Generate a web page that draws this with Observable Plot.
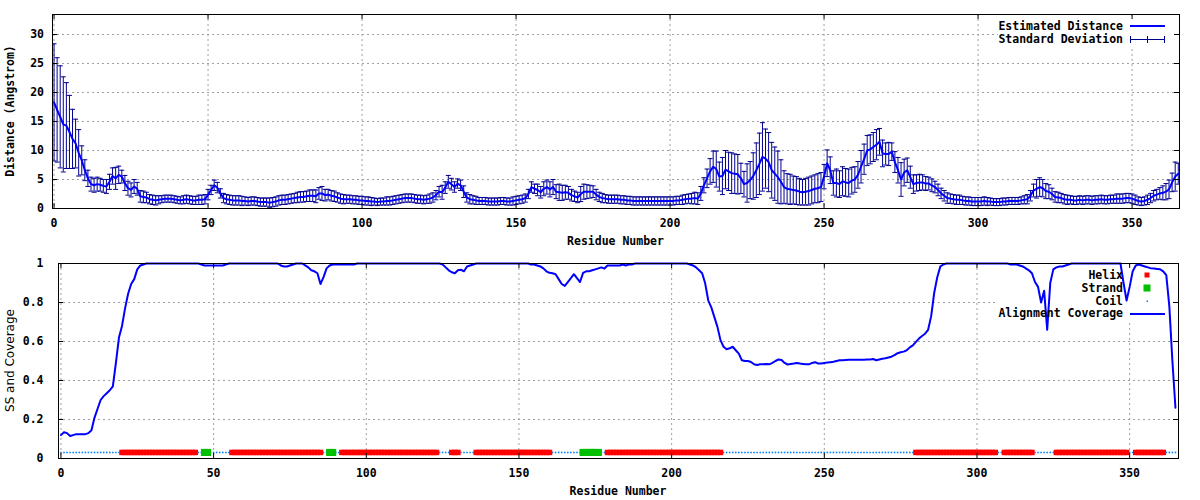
<!DOCTYPE html>
<html>
<head>
<meta charset="utf-8">
<script src="https://cdn.jsdelivr.net/npm/d3@7"></script>
<script src="https://cdn.jsdelivr.net/npm/@observablehq/plot@0.6"></script>
<style>
html,body{margin:0;padding:0;background:#fff;}
#wrap{position:relative;width:1200px;height:500px;overflow:hidden;}
.panel svg{display:block;}
.lg{position:absolute;font:bold 11.5px "DejaVu Sans Mono",monospace;color:#000;height:13px;line-height:13px;white-space:nowrap;text-align:right;}
.sw{position:absolute;}
</style>
</head>
<body>
<div id="wrap"><div class="panel" id="top"></div><div class="panel" id="bot"></div></div>
<script>
// ---------- data ----------
const distance = [
18.3,17.0,15.8,14.5,14.3,13.2,12.0,11.2,9.6,8.3,
6.6,5.2,4.2,4.0,4.2,4.1,3.9,3.8,4.6,5.6,
5.2,5.8,5.5,4.4,3.5,3.2,3.8,3.4,2.1,2.0,
1.9,1.6,1.5,1.4,1.5,1.6,1.7,1.7,1.7,1.6,
1.5,1.4,1.5,1.6,1.5,1.4,1.4,1.5,1.5,1.6,
2.4,3.2,4.0,3.6,2.6,1.8,1.6,1.5,1.4,1.4,
1.4,1.3,1.3,1.2,1.3,1.3,1.2,1.1,1.1,1.1,
1.0,1.1,1.2,1.4,1.5,1.5,1.6,1.7,1.8,1.9,
2.0,2.0,2.1,2.2,2.2,2.1,2.6,2.6,2.3,2.4,
2.2,2.1,1.9,1.7,1.6,1.6,1.6,1.5,1.5,1.4,
1.4,1.3,1.3,1.2,1.2,1.1,1.2,1.2,1.3,1.3,
1.4,1.5,1.6,1.7,1.8,1.8,1.8,1.7,1.6,1.6,
1.5,1.6,1.7,1.9,2.3,2.9,2.8,3.6,4.6,4.2,
3.7,4.3,4.0,2.9,1.9,1.6,1.5,1.4,1.3,1.3,
1.3,1.2,1.2,1.2,1.2,1.3,1.3,1.2,1.2,1.3,
1.4,1.5,1.6,1.8,2.5,3.7,3.4,3.2,2.8,3.4,
3.7,3.3,3.7,2.9,2.8,2.7,2.8,2.7,2.3,2.1,
1.9,2.5,2.9,2.9,2.9,2.9,2.4,2.0,1.8,1.7,
1.6,1.6,1.6,1.6,1.5,1.5,1.4,1.4,1.3,1.3,
1.3,1.3,1.3,1.3,1.3,1.3,1.3,1.3,1.3,1.3,
1.3,1.3,1.4,1.4,1.5,1.6,1.7,1.7,1.8,1.7,
2.6,4.0,5.2,6.4,7.2,6.8,5.5,5.6,6.7,6.4,
6.1,6.0,5.9,5.2,4.2,4.4,4.9,5.6,6.6,7.7,
8.9,8.6,8.0,6.6,6.0,5.4,4.6,3.7,3.4,3.3,
3.2,3.1,2.9,2.8,2.9,3.0,3.2,3.4,3.5,3.7,
5.5,7.8,6.6,4.4,4.4,4.2,4.7,4.5,4.4,4.8,
5.0,5.8,7.2,8.5,10.0,10.2,10.6,11.0,11.5,9.5,
9.4,9.4,9.8,8.0,6.6,5.0,6.2,6.6,5.4,4.2,
4.4,4.5,4.5,4.3,4.3,4.0,3.7,3.2,2.6,2.2,
1.8,1.7,1.6,1.5,1.5,1.4,1.3,1.3,1.2,1.2,
1.2,1.2,1.3,1.2,1.2,1.1,1.1,1.1,1.2,1.2,
1.3,1.3,1.3,1.3,1.4,1.5,1.6,2.2,3.1,3.4,
3.7,3.5,3.0,2.9,2.5,2.0,1.9,1.8,1.6,1.5,
1.5,1.4,1.4,1.5,1.4,1.5,1.5,1.4,1.5,1.5,
1.6,1.5,1.5,1.6,1.6,1.7,1.7,1.7,1.8,1.8,
1.7,1.5,1.3,1.2,1.3,1.5,1.8,2.2,2.4,2.6,
2.7,2.9,3.3,4.5,5.5,6.0];

const stdev = [
10.1,9.0,8.8,8.2,7.4,6.3,5.1,4.2,4.0,2.5,
1.8,1.4,1.2,1.2,1.2,1.1,1.1,1.2,1.3,1.4,
1.9,1.5,1.1,1.3,1.2,1.2,1.2,1.1,1.0,1.0,
0.9,0.8,0.8,0.8,0.7,0.6,0.6,0.6,0.6,0.6,
0.6,0.6,0.7,0.7,0.7,0.7,0.7,0.8,0.8,0.8,
0.9,0.8,0.9,0.9,0.8,0.8,0.8,0.8,0.8,0.8,
0.8,0.8,0.7,0.7,0.7,0.7,0.7,0.7,0.7,0.7,
0.8,0.8,0.8,0.8,0.8,0.8,0.8,0.8,0.8,0.9,
0.9,0.9,0.9,1.0,1.0,1.1,1.0,1.2,1.0,0.9,
0.9,0.9,0.8,0.8,0.8,0.7,0.7,0.7,0.7,0.7,
0.7,0.7,0.7,0.7,0.6,0.6,0.6,0.6,0.7,0.7,
0.7,0.7,0.7,0.7,0.7,0.7,0.7,0.7,0.7,0.7,
0.7,0.7,0.8,0.8,0.8,0.9,1.2,1.0,1.1,1.0,
0.9,0.8,0.9,1.0,0.8,0.8,0.7,0.7,0.6,0.6,
0.6,0.6,0.6,0.6,0.6,0.6,0.6,0.6,0.6,0.7,
0.7,0.7,0.7,0.7,0.8,0.9,0.8,1.0,1.0,1.2,
1.2,1.3,1.3,1.2,1.4,1.3,1.2,1.1,1.0,0.9,
0.9,1.3,1.3,1.2,1.1,1.0,0.9,0.8,0.8,0.7,
0.7,0.7,0.7,0.7,0.7,0.7,0.7,0.7,0.7,0.7,
0.7,0.7,0.7,0.7,0.7,0.7,0.7,0.7,0.7,0.7,
0.7,0.7,0.7,0.7,0.8,0.8,0.8,0.9,1.0,1.0,
1.2,1.3,1.6,2.2,2.7,3.1,2.5,3.2,3.3,3.3,
3.5,3.4,3.4,2.6,2.2,3.3,3.2,4.0,4.7,5.3,
5.9,5.1,5.1,4.8,4.6,4.5,3.8,2.8,2.6,2.6,
2.4,2.4,2.3,2.2,2.3,2.4,2.4,2.4,2.5,2.5,
2.1,2.3,2.3,2.1,2.4,2.3,2.5,2.4,2.4,2.3,
2.2,2.3,2.8,2.6,2.6,2.5,2.5,2.6,2.3,2.3,
1.9,2.0,1.5,1.8,2.2,2.9,2.3,2.1,1.9,1.6,
1.4,1.4,1.3,1.2,1.1,1.1,1.0,1.0,0.9,0.9,
0.9,0.8,0.8,0.8,0.8,0.7,0.7,0.7,0.7,0.7,
0.7,0.7,0.7,0.7,0.6,0.6,0.6,0.6,0.6,0.6,
0.6,0.6,0.6,0.6,0.6,0.7,0.8,0.9,1.1,1.6,
1.6,1.5,1.3,1.2,1.0,0.9,0.9,0.8,0.8,0.8,
0.7,0.7,0.7,0.7,0.7,0.7,0.7,0.7,0.7,0.7,
0.7,0.7,0.7,0.7,0.7,0.8,0.8,0.8,0.8,0.8,
0.8,0.8,0.7,0.7,0.7,0.8,0.8,0.9,0.9,1.0,
1.2,1.4,1.6,1.6,2.5,1.8];

const coverage = [
0.12,0.135,0.13,0.115,0.12,0.125,0.125,0.125,0.125,0.13,
0.145,0.21,0.255,0.3,0.32,0.335,0.35,0.37,0.49,0.62,
0.68,0.77,0.845,0.895,0.92,0.97,0.99,0.995,1,1,
1,1,1,1,1,1,1,1,1,1,
1,1,1,1,1,1,0.995,0.99,0.99,0.99,
0.99,0.99,0.99,0.99,0.995,1,1,1,1,1,
1,1,1,1,1,1,1,1,1,1,
1,1,0.99,0.985,0.985,0.99,0.995,1,1,1,
0.99,0.98,0.965,0.96,0.95,0.895,0.93,0.975,0.99,0.995,
0.995,0.995,0.995,0.995,0.995,0.995,0.995,1,1,1,
1,1,1,1,1,1,1,1,1,1,
1,1,1,1,1,1,1,1,1,1,
1,1,1,1,1,0.995,0.98,0.965,0.955,0.95,
0.965,0.968,0.96,0.985,0.99,0.995,1,1,1,1,
1,1,1,1,1,1,1,1,1,1,
1,1,1,1,0.995,0.995,0.99,0.985,0.975,0.96,
0.952,0.95,0.945,0.92,0.895,0.885,0.905,0.925,0.945,0.925,
0.905,0.952,0.96,0.96,0.965,0.97,0.975,0.98,0.974,0.99,
0.99,0.99,0.99,0.99,0.995,0.99,0.995,0.995,1,1,
1,1,1,1,1,1,1,1,1,1,
1,1,1,1,1,1,0.995,0.99,0.98,0.965,
0.95,0.897,0.81,0.775,0.725,0.675,0.607,0.573,0.56,0.565,
0.573,0.555,0.538,0.504,0.5,0.5,0.495,0.483,0.48,0.483,
0.483,0.485,0.483,0.49,0.5,0.508,0.505,0.49,0.482,0.485,
0.487,0.49,0.487,0.485,0.483,0.483,0.49,0.494,0.487,0.487,
0.49,0.492,0.494,0.496,0.5,0.504,0.504,0.505,0.506,0.506,
0.506,0.506,0.506,0.506,0.508,0.508,0.51,0.504,0.508,0.512,
0.514,0.518,0.522,0.53,0.54,0.545,0.548,0.555,0.57,0.58,
0.598,0.615,0.628,0.64,0.66,0.73,0.85,0.93,0.985,0.995,
1,1,1,1,1,1,1,1,1,1,
1,1,1,1,1,1,1,1,1,1,
1,0.995,0.995,0.995,0.99,0.985,0.975,0.965,0.95,0.905,
0.88,0.8,0.86,0.66,0.9,0.97,0.98,0.985,0.985,0.99,
0.995,1,1,1,1,1,1,1,1,1,
1,1,1,1,1,1,1,1,0.9,0.81,
0.88,0.96,0.99,0.995,0.99,0.985,0.98,0.975,0.974,0.972,
0.97,0.96,0.94,0.78,0.5,0.26];

// secondary structure segments (residue ranges, inclusive)
const helixRanges = [[20,44],[56,85],[92,123],[128,130],[136,160],[179,216],[280,306],[309,318],[326,349],[352,361]];
const strandRanges = [[47,48],[88,89],[171,176]];
const SS_LEVEL = 0.031;

const residueTicks = [0,50,100,150,200,250,300,350];
const distanceTicks = [0,5,10,15,20,25,30];
const coverageTicks = [0,0.2,0.4,0.6,0.8,1];

// ---------- style ----------
const MONO = '"DejaVu Sans Mono", monospace';
const LINE_BLUE = "#0000ff";
const ERR_BLUE = "#000090";
const COIL_BLUE = "#0080ff";
const HELIX_RED = "#ff0000";
const STRAND_GREEN = "#00c000";
const gridStyle = {stroke: "#a0a0a0", strokeOpacity: 1, strokeDasharray: "2,3", strokeWidth: 1};

const residues = distance.map((_, i) => i);
const topData = residues.map(i => ({res: i, d: distance[i], sd: stdev[i]}));
const covData = coverage.map((c, i) => ({res: i, c}));
const ssOf = i => helixRanges.some(([a,b]) => i >= a && i <= b) ? "H" : strandRanges.some(([a,b]) => i >= a && i <= b) ? "E" : "C";
const ssData = coverage.map((_, i) => ({res: i, ss: ssOf(i)}));

const capSymbol = {draw(ctx) { ctx.moveTo(-2.5, 0); ctx.lineTo(2.5, 0); }};

function frameTicks(xt, yt, innerW, innerH, len = 5) {
  return [
    Plot.ruleX(xt, {x: d => d, insetBottom: innerH - len, stroke: "#000"}),
    Plot.ruleX(xt, {x: d => d, insetTop: innerH - len, stroke: "#000"}),
    Plot.ruleY(yt, {y: d => d, insetRight: innerW - len, stroke: "#000"}),
    Plot.ruleY(yt, {y: d => d, insetLeft: innerW - len, stroke: "#000"})
  ];
}
function legendBox(w, h) {
  return (index, scales, values, dims) => {
    const r = document.createElementNS("http://www.w3.org/2000/svg", "rect");
    r.setAttribute("x", dims.width - dims.marginRight - w - 1);
    r.setAttribute("y", dims.marginTop + 3);
    r.setAttribute("width", w);
    r.setAttribute("height", h);
    r.setAttribute("fill", "#fff");
    return r;
  };
}
const baseStyle = {fontFamily: MONO, fontSize: "11.5px", fontWeight: "bold", color: "#000", background: "#fff", overflow: "visible"};

// ---------- top panel ----------
const T = {w: 1200, h: 250, ml: 52, mr: 21, mt: 14, mb: 42};
const topPlot = Plot.plot({
  width: T.w, height: T.h, marginLeft: T.ml, marginRight: T.mr, marginTop: T.mt, marginBottom: T.mb,
  style: baseStyle,
  x: {domain: [-0.5, 365.4]},
  y: {domain: [0, 33.45]},
  marks: [
    Plot.gridX(residueTicks, gridStyle),
    Plot.gridY(distanceTicks, gridStyle),
    legendBox(180, 29),
    Plot.ruleX(topData, {x: "res", y1: d => d.d - d.sd, y2: d => d.d + d.sd, stroke: ERR_BLUE, strokeWidth: 1, clip: true}),
    Plot.dot(topData, {x: "res", y: d => d.d - d.sd, symbol: capSymbol, fill: "none", stroke: ERR_BLUE, strokeWidth: 1, r: 3, clip: true}),
    Plot.dot(topData, {x: "res", y: d => d.d + d.sd, symbol: capSymbol, fill: "none", stroke: ERR_BLUE, strokeWidth: 1, r: 3, clip: true}),
    Plot.line(topData, {x: "res", y: "d", stroke: LINE_BLUE, strokeWidth: 2}),
    ...frameTicks(residueTicks, distanceTicks, T.w - T.ml - T.mr, T.h - T.mt - T.mb),
    Plot.frame({stroke: "#000"}),
    Plot.axisX(residueTicks, {tickSize: 0, tickPadding: 10, label: null, tickFormat: d => String(d)}),
    Plot.axisY(distanceTicks, {tickSize: 0, tickPadding: 8.5, label: null, tickFormat: d => String(d)})
  ]
});
document.getElementById("top").appendChild(topPlot);

// ---------- bottom panel ----------
const B = {w: 1200, h: 250, ml: 58, mr: 22, mt: 13, mb: 42};
const botPlot = Plot.plot({
  width: B.w, height: B.h, marginLeft: B.ml, marginRight: B.mr, marginTop: B.mt, marginBottom: B.mb,
  style: baseStyle,
  x: {domain: [-0.8, 366]},
  y: {domain: [0, 1]},
  marks: [
    Plot.gridX(residueTicks, gridStyle),
    Plot.gridY(coverageTicks, gridStyle),
    legendBox(179, 54),
    Plot.dot(ssData.filter(d => d.ss === "C"), {x: "res", y: () => SS_LEVEL, symbol: "square", r: 0.9, fill: COIL_BLUE}),
    Plot.dot(ssData.filter(d => d.ss === "H"), {x: "res", y: () => SS_LEVEL, symbol: "square", r: 3.1, fill: HELIX_RED}),
    Plot.dot(ssData.filter(d => d.ss === "E"), {x: "res", y: () => SS_LEVEL, symbol: "square", r: 4.0, fill: STRAND_GREEN}),
    Plot.line(covData, {x: "res", y: "c", stroke: LINE_BLUE, strokeWidth: 2}),
    ...frameTicks(residueTicks, coverageTicks, B.w - B.ml - B.mr, B.h - B.mt - B.mb),
    Plot.frame({stroke: "#000"}),
    Plot.axisX(residueTicks, {tickSize: 0, tickPadding: 10, label: null, tickFormat: d => String(d)}),
    Plot.axisY(coverageTicks, {tickSize: 0, tickPadding: 15, label: null, tickFormat: d => String(d)})
  ]
});
document.getElementById("bot").appendChild(botPlot);

// ---------- axis titles ----------
function addTitles(svg, dims, yTitle, yFont, yWeight) {
  const s = d3.select(svg);
  const cx = (dims.ml + dims.w - dims.mr) / 2;
  const cy = (dims.mt + dims.h - dims.mb) / 2;
  s.append("text").attr("x", cx).attr("y", dims.h - 5).attr("text-anchor", "middle")
    .style("font", `bold 11.5px ${MONO}`).attr("fill", "#000").text("Residue Number");
  s.append("text").attr("transform", `translate(10,${cy}) rotate(-90)`).attr("text-anchor", "middle")
    .attr("dy", "0.35em").style("font-family", yFont).style("font-size", yWeight === "bold" ? "11.5px" : "12px")
    .style("font-weight", yWeight).attr("fill", "#000").text(yTitle);
}
addTitles(topPlot, T, "Distance (Angstrom)", MONO, "bold");
addTitles(botPlot, B, "SS and Coverage", '"DejaVu Sans", sans-serif', "normal");

// ---------- legends (HTML overlay) ----------
const wrap = document.getElementById("wrap");
function legendRow(label, cy, swatch) {
  const t = document.createElement("div");
  t.className = "lg";
  t.style.right = (1200 - 1123) + "px";
  t.style.top = (cy - 6.5) + "px";
  t.textContent = label;
  wrap.appendChild(t);
  const sv = d3.create("svg").attr("class", "sw").attr("width", 40).attr("height", 14)
    .style("left", "1128px").style("top", (cy - 7) + "px");
  swatch(sv);
  wrap.appendChild(sv.node());
}
const lineSw = color => sv => sv.append("line").attr("x1", 2).attr("x2", 37).attr("y1", 7).attr("y2", 7).attr("stroke", color).attr("stroke-width", 2);
legendRow("Estimated Distance", 26, lineSw(LINE_BLUE));
legendRow("Standard Deviation", 39, sv => {
  sv.append("line").attr("x1", 2.5).attr("x2", 36.5).attr("y1", 7.5).attr("y2", 7.5).attr("stroke", ERR_BLUE);
  [2.5, 19.5, 36.5].forEach(x => sv.append("line").attr("x1", x).attr("x2", x).attr("y1", 4).attr("y2", 11).attr("stroke", ERR_BLUE));
});
legendRow("Helix", 275, sv => sv.append("rect").attr("x", 16.5).attr("y", 4.5).attr("width", 5).attr("height", 5).attr("fill", HELIX_RED));
legendRow("Strand", 288, sv => sv.append("rect").attr("x", 15.5).attr("y", 3.5).attr("width", 7).attr("height", 7).attr("fill", STRAND_GREEN));
legendRow("Coil", 301, sv => sv.append("rect").attr("x", 18.5).attr("y", 6.5).attr("width", 1.5).attr("height", 1.5).attr("fill", COIL_BLUE));
legendRow("Alignment Coverage", 313.5, lineSw(LINE_BLUE));
</script>
</body>
</html>
